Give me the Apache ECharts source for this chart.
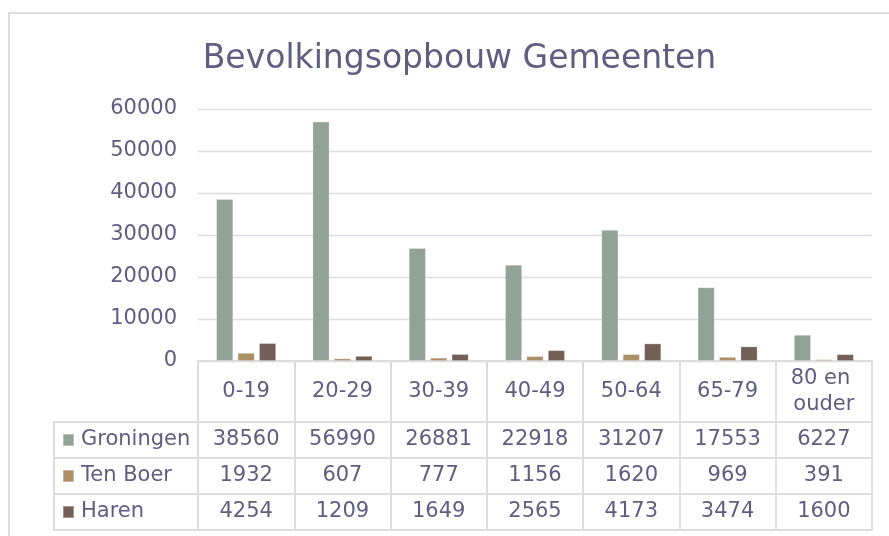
<!DOCTYPE html>
<html><head><meta charset="utf-8">
<script src="https://cdn.jsdelivr.net/npm/echarts@6/dist/echarts.min.js"></script>
<style>html,body{margin:0;padding:0;background:#fff}#c{width:889px;height:536px}</style>
</head><body><div id="c"></div>
<script>
// ---- data ----
const categories = ['0-19', '20-29', '30-39', '40-49', '50-64', '65-79', '80 en ouder'];
const seriesNames = ['Groningen', 'Ten Boer', 'Haren'];
const groningen = [38560, 56990, 26881, 22918, 31207, 17553, 6227];
const tenBoer = [1932, 607, 777, 1156, 1620, 969, 391];
const haren = [4254, 1209, 1649, 2565, 4173, 3474, 1600];
const yMin = 0, yMax = 60000, yStep = 10000;
const titleText = 'Bevolkingsopbouw Gemeenten';

// ---- style / layout ----
const W = 889, H = 536;
const FONT = 'DejaVu Sans';
const TXT = '#5f5e80';
const LINE = '#dcdce3';
const colors = ['#93a299', '#ad8f67', '#725f55'];
const GRID_L = 198, GRID_R = 872, GRID_T = 109, GRID_B = 361;
const HEAD_H = 61, ROW_H = 36, TABLE_L = 54;
const rows = [groningen, tenBoer, haren];

const chart = echarts.init(document.getElementById('c'), null, {renderer: 'canvas'});

const xAxes = [{
  type: 'category', data: categories, position: 'bottom', offset: 0,
  axisLine: {show: true, lineStyle: {color: LINE, width: 2}},
  axisTick: {show: true, interval: 0, length: HEAD_H, lineStyle: {color: LINE, width: 2}},
  axisLabel: {interval: 0, fontFamily: FONT, fontSize: 21, color: TXT, margin: 31,
    verticalAlign: 'middle', lineHeight: 26, width: 92, overflow: 'break'},
  splitLine: {show: false}
}];
rows.forEach((vals, r) => {
  xAxes.push({
    type: 'category', data: categories, position: 'bottom', offset: HEAD_H + r * ROW_H,
    axisLine: {show: true, lineStyle: {color: LINE, width: 2}},
    axisTick: {show: true, interval: 0, length: ROW_H, lineStyle: {color: LINE, width: 2}},
    axisLabel: {interval: 0, fontFamily: FONT, fontSize: 21, color: TXT, margin: ROW_H / 2,
      verticalAlign: 'middle', formatter: (v, i) => String(vals[i])},
    splitLine: {show: false}
  });
});
xAxes.push({
  type: 'category', data: categories, position: 'bottom', offset: HEAD_H + rows.length * ROW_H,
  axisLine: {show: true, lineStyle: {color: LINE, width: 2}},
  axisTick: {show: false}, axisLabel: {show: false}, splitLine: {show: false}
});

const tableBottom = GRID_B + HEAD_H + rows.length * ROW_H;
const graphics = [{
  type: 'rect', shape: {x: 9, y: 13, width: W + 20, height: H + 20}, silent: true,
  style: {fill: 'none', stroke: LINE, lineWidth: 2}, z: -10
}];
for (let r = 0; r <= rows.length; r++) {
  const y = GRID_B + HEAD_H + r * ROW_H;
  graphics.push({type: 'line', shape: {x1: TABLE_L - 1, y1: y, x2: GRID_L, y2: y}, silent: true,
    style: {stroke: LINE, lineWidth: 2}});
}
graphics.push({type: 'line', shape: {x1: TABLE_L, y1: GRID_B + HEAD_H, x2: TABLE_L, y2: tableBottom}, silent: true,
  style: {stroke: LINE, lineWidth: 2}});

const seriesData = [groningen, tenBoer, haren];
chart.setOption({
  animation: false,
  backgroundColor: '#ffffff',
  color: colors,
  title: {text: titleText, left: 454.5, textAlign: 'center', top: 38,
    textStyle: {fontFamily: FONT, fontSize: 33, fontWeight: 'normal', color: TXT}},
  legend: {data: seriesNames, orient: 'vertical', left: 62, top: GRID_B + HEAD_H,
    padding: 0, itemGap: 0, itemWidth: 11, itemHeight: 12, icon: 'rect', selectedMode: false,
    textStyle: {fontFamily: FONT, fontSize: 21, color: TXT, lineHeight: ROW_H, padding: [0, 0, 0, 2]}},
  grid: {left: GRID_L, right: W - GRID_R, top: GRID_T, bottom: H - GRID_B, containLabel: false},
  xAxis: xAxes,
  yAxis: {type: 'value', min: yMin, max: yMax, interval: yStep,
    axisLine: {show: false}, axisTick: {show: false},
    axisLabel: {fontFamily: FONT, fontSize: 21, color: TXT, margin: 21, formatter: v => String(v)},
    splitLine: {lineStyle: {color: LINE, width: 1.3}}},
  series: seriesNames.map((n, i) => ({
    name: n, type: 'bar', xAxisIndex: 0, data: seriesData[i],
    barWidth: 17, barGap: '26%',
    itemStyle: {borderColor: 'rgba(255,255,255,0.35)', borderWidth: 0.8}
  })),
  graphic: graphics
});
</script></body></html>
